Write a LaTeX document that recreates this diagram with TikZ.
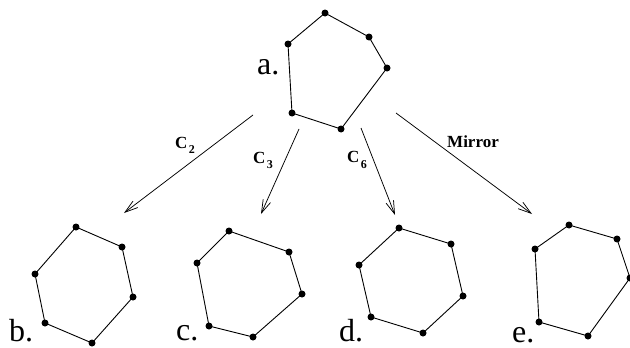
\documentclass[tikz,border=0pt]{standalone}
\usepackage{fontspec}
\setmainfont{Liberation Serif}
\usetikzlibrary{arrows.meta}
\newcommand{\hexa}[6]{%
  \draw[edge] #1 -- #2 -- #3 -- #4 -- #5 -- #6 -- cycle;
  \foreach \q in {#1,#2,#3,#4,#5,#6}{\fill[vdot] \q circle (3.5);}
}
\begin{document}
\begin{tikzpicture}[x=1pt,y=-1pt,
  edge/.style={line width=0.9pt},
  vdot/.style={fill=black},
  arr/.style={line width=0.75pt,-{Straight Barb[length=13pt,width=8pt,line width=0.75pt]}},
  biglabel/.style={anchor=base west,inner sep=0pt,font=\fontsize{32}{32}\selectfont},
  oplabel/.style={anchor=base west,inner sep=0pt,font=\fontsize{17}{17}\selectfont\bfseries}]
\useasboundingbox (0,0) rectangle (630,348);
\clip (0,0) rectangle (630,348);
% polygons
\hexa{(325,13)}{(369,37)}{(387,68)}{(341,129)}{(292,113)}{(288,44)}
\hexa{(76,227)}{(122,247)}{(133,297)}{(92,343)}{(45,323)}{(35,274)}
\hexa{(229,231)}{(289,252)}{(302,294)}{(253,337)}{(209,326)}{(197,263)}
\hexa{(399,228)}{(451,244)}{(463,296)}{(423,333)}{(371,317)}{(359,265)}
\hexa{(569,225)}{(617,239)}{(630,278)}{(588,336)}{(539,322)}{(535,249)}
% labels
\node[biglabel] (la) at (257,74) {a.};
\node[biglabel] (lb) at (9,341) {b.};
\node[biglabel] (lc) at (176,340) {c.};
\node[biglabel] (ld) at (339,341) {d.};
\node[biglabel] (le) at (512,342) {e.};
% arrows
\coordinate (s2) at (253,115); \coordinate (e2) at (124,213);
\coordinate (s3) at (299,129); \coordinate (e3) at (261,214);
\coordinate (s6) at (361,128); \coordinate (e6) at (395,215);
\coordinate (sm) at (396,113); \coordinate (em) at (532,214);
\draw[arr] (s2) -- (e2);
\draw[arr] (s3) -- (e3);
\draw[arr] (s6) -- (e6);
\draw[arr] (sm) -- (em);
\node[oplabel] (c2) at (175,148) {C\hspace{1.5pt}\raisebox{-5pt}{\fontsize{12}{12}\selectfont 2}};
\node[oplabel] (c3) at (253,163) {C\hspace{1.5pt}\raisebox{-5pt}{\fontsize{12}{12}\selectfont 3}};
\node[oplabel] (c6) at (347,162) {C\hspace{1.5pt}\raisebox{-6pt}{\fontsize{12}{12}\selectfont 6}};
\node[oplabel] (mir) at (447,147) {Mirror};
\end{tikzpicture}
\end{document}
